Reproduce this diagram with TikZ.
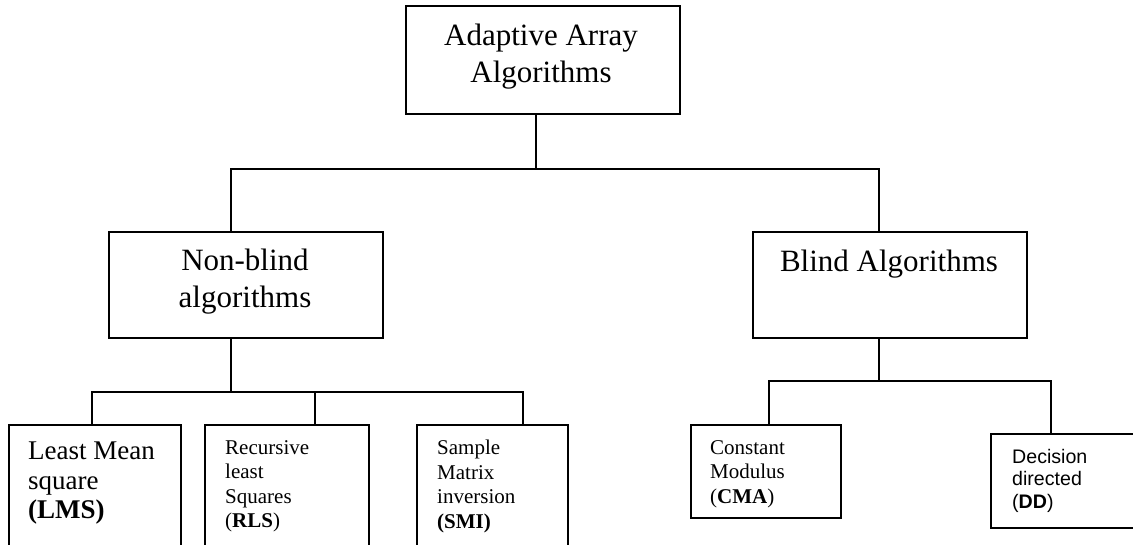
\documentclass[tikz,border=0pt]{standalone}
\usepackage{fontspec}
\setmainfont{Liberation Serif}
\newfontfamily\arialfont{Liberation Sans}
\usetikzlibrary{calc}

\tikzset{
  blockbox/.style={draw, line width=1.7pt, inner sep=0pt, anchor=north west},
  link/.style={line width=1.5pt},
  bigtext/.style={inner sep=0pt, anchor=north, align=center,
    font=\fontsize{31}{37}\selectfont},
  midtext/.style={inner sep=0pt, anchor=north west, align=left,
    font=\fontsize{27}{29.5}\selectfont},
  smalltext/.style={inner sep=0pt, anchor=north west, align=left,
    font=\fontsize{21}{24.5}\selectfont},
  sanstext/.style={inner sep=0pt, anchor=north west, align=left,
    font=\arialfont\fontsize{19.6}{22.5}\selectfont},
}

\begin{document}
\begin{tikzpicture}[x=1pt, y=-1pt]
  \useasboundingbox (0,0) rectangle (1133,545);
  \clip (0,0) rectangle (1133,545);

  % boxes
  \node[blockbox, minimum width=274pt, minimum height=108pt] (top) at (405,5) {};
  \node[blockbox, minimum width=274pt, minimum height=106pt] (nb)  at (108,231) {};
  \node[blockbox, minimum width=274pt, minimum height=106pt] (bl)  at (752,231) {};
  \node[blockbox, minimum width=172pt, minimum height=140pt] (lms) at (8,424) {};
  \node[blockbox, minimum width=164pt, minimum height=140pt] (rls) at (204,424) {};
  \node[blockbox, minimum width=151pt, minimum height=140pt] (smi) at (416,424) {};
  \node[blockbox, minimum width=150pt, minimum height=93pt]  (cma) at (690,424) {};
  \node[blockbox, minimum width=160pt, minimum height=94pt]  (dd)  at (990,433) {};

  % labels
  \node[bigtext] (topT) at (541,24) {Adaptive Array\\Algorithms};
  \node[bigtext] (nbT) at (245,249) {Non-blind\\algorithms};
  \node[bigtext] (blT) at (889,250) {Blind Algorithms};
  \node[midtext] (lmsT) at (28,442) {Least Mean\\square\\\textbf{(LMS)}};
  \node[smalltext] (rlsT) at (225,440) {Recursive\\least\\Squares\\(\textbf{RLS})};
  \node[smalltext] (smiT) at (437,440) {Sample\\Matrix\\inversion\\\textbf{(SMI)}};
  \node[smalltext] (cmaT) at (710,440) {Constant\\Modulus\\(\textbf{CMA})};
  \node[sanstext] (ddT) at (1012,449) {Decision\\directed\\(\textbf{DD})};

  % first level
  \coordinate (j0) at (536,169);
  \coordinate (hL) at (231,169);
  \coordinate (hR) at (879,169);
  \draw[link] (top.south -| j0) -- (j0);
  \draw[link] (nb.north -| hL) -- (hL) -- (hR) -- (bl.north -| hR);

  % non-blind branch
  \coordinate (j1) at (231,392);
  \coordinate (gL) at (92,392);
  \coordinate (gM) at (315,392);
  \coordinate (gR) at (523,392);
  \draw[link] (nb.south -| j1) -- (j1);
  \draw[link] (lms.north -| gL) -- (gL) -- (gR) -- (smi.north -| gR);
  \draw[link] (gM) -- (rls.north -| gM);

  % blind branch
  \coordinate (j2) at (879,381);
  \coordinate (kL) at (769,381);
  \coordinate (kR) at (1051,381);
  \draw[link] (bl.south -| j2) -- (j2);
  \draw[link] (cma.north -| kL) -- (kL) -- (kR) -- (dd.north -| kR);
\end{tikzpicture}
\end{document}
